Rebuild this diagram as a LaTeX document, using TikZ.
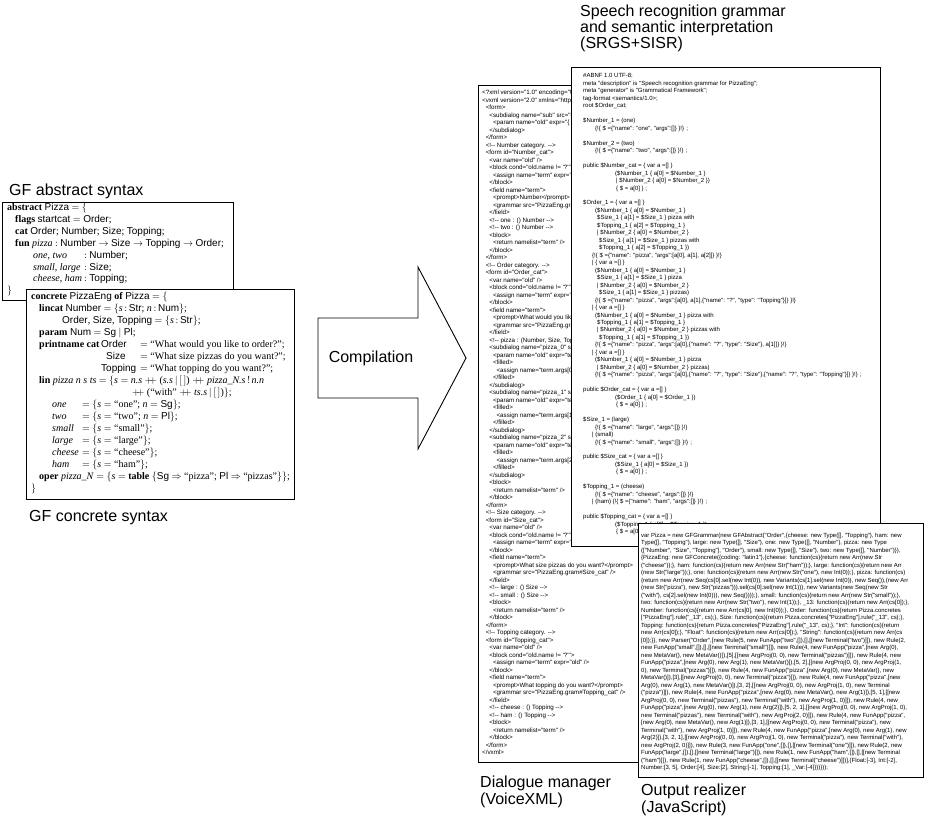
\documentclass[tikz,border=0pt]{standalone}
\usepackage{fontspec}
\setmainfont{Liberation Serif}
\setsansfont{Liberation Sans}
\newfontfamily\lsf{Liberation Sans}
\newcommand\kw[1]{\textbf{#1}}
\newcommand\sid[1]{{\sffamily #1}}
\newcommand\fn[1]{\textit{#1}}
\newcommand\pp{\ensuremath{+\!\!+}}
\newcommand\xl[2]{\hbox{\kern#1pt\relax #2}}
\newcommand\blk{\hbox{}}
\newcommand\q{\textquotesingle}
\newcommand\codebox[3]{\vtop{\lsf\fontsize{#1}{#2}\selectfont\baselineskip=#2pt\lineskiplimit=-20pt\lineskip=0pt\relax #3}}
\newcommand\vxcat[3]{%
 \xl{3.6}{<!-{}- #1 category. -{}->}
 \xl{3.6}{<form id="#1\_cat">}
 \xl{7.2}{<var name="old" />}
 \xl{7.2}{<block cond="old.name != \q?\q">}
 \xl{10.8}{<assign name="term" expr="old" />}
 \xl{7.2}{</block>}
 \xl{7.2}{<field name="term">}
 \xl{10.8}{<prompt>#2</prompt>}
 \xl{10.8}{<grammar src="PizzaEng.gram\##1\_cat" />}
 \xl{7.2}{</field>}
 #3
 \xl{7.2}{<block>}
 \xl{10.8}{<return namelist="term" />}
 \xl{7.2}{</block>}
 \xl{3.6}{</form>}}
\newcommand\vxsub[2]{%
 \xl{7.2}{<subdialog name="pizza\_#1" src="\##2\_cat">}
 \xl{10.8}{<param name="old" expr="term.args[#1]" />}
 \xl{10.8}{<filled>}
 \xl{14.4}{<assign name="term.args[#1]" expr="pizza\_#1" />}
 \xl{10.8}{</filled>}
 \xl{7.2}{</subdialog>}}
\begin{document}
\begin{tikzpicture}[x=1pt,y=-1pt,
  box/.style={draw=black,line width=0.9pt,fill=white},
  gf/.style={anchor=base west,inner sep=0pt,font=\fontsize{10}{12}\selectfont},
  lbl/.style={anchor=base west,inner sep=0pt,font=\lsf\fontsize{16}{16}\selectfont},
  code/.style={anchor=base west,inner sep=0pt}
]
\useasboundingbox (0,0) rectangle (926,821);

% ---------------- GF abstract syntax
\node[lbl] (abslbl) at (9,196) {GF abstract syntax};
\draw[box] (2,202) rectangle (233,300);
\node[gf] (a1) at (7,211) {\kw{abstract} \sid{Pizza} $=$ $\{$};
\node[gf] (a2) at (15,222.8) {\kw{flags} \sid{startcat} $=$ \sid{Order};};
\node[gf] (a3) at (15,234.6) {\kw{cat} \sid{Order}; \sid{Number}; \sid{Size}; \sid{Topping};};
\node[gf] (a4) at (15,246.4) {\kw{fun} \fn{pizza} $:$ \sid{Number} $\rightarrow$ \sid{Size} $\rightarrow$ \sid{Topping} $\rightarrow$ \sid{Order};};
\node[gf] (a5) at (33,258.2) {\fn{one}, \fn{two}};
\node[gf] (a5b) at (84,258.2) {$:$ \sid{Number};};
\node[gf] (a6) at (33,270) {\fn{small}, \fn{large}};
\node[gf] (a6b) at (84,270) {$:$ \sid{Size};};
\node[gf] (a7) at (33,281.8) {\fn{cheese}, \fn{ham}};
\node[gf] (a7b) at (84,281.8) {$:$ \sid{Topping};};
\node[gf] (a8) at (7,293.6) {$\}$};

% ---------------- GF concrete syntax
\draw[box] (26,289) rectangle (294,499);
\node[gf] (c1) at (31,299) {\kw{concrete} \sid{PizzaEng} \kw{of} \sid{Pizza} $=$ $\{$};
\node[gf] (c2) at (39,311) {\kw{lincat} \sid{Number} $=$ $\{$\fn{s}$\,:\,$\sid{Str}; \fn{n}$\,:\,$\sid{Num}$\}$;};
\node[gf] (c3) at (62,323) {\sid{Order}, \sid{Size}, \sid{Topping} $=$ $\{$\fn{s}$\,:\,$\sid{Str}$\}$;};
\node[gf] (c4) at (39,335) {\kw{param} \sid{Num} $=$ \sid{Sg} $|$ \sid{Pl};};
\node[gf] (c5) at (39,347) {\kw{printname cat}};
\node[gf] (c5n) at (101,347) {\sid{Order}};
\node[gf] (c5s) at (140,347) {$=$ ``What would you like to order?'';};
\node[gf] (c6n) at (106,359) {\sid{Size}};
\node[gf] (c6s) at (140,359) {$=$ ``What size pizzas do you want?'';};
\node[gf] (c7n) at (101,371) {\sid{Topping}};
\node[gf] (c7s) at (140,371) {$=$ ``What topping do you want?'';};
\node[gf] (c8) at (39,383) {\kw{lin} \fn{pizza n s ts} $=$ $\{$\fn{s} $=$ \fn{n.s} \pp{} (\fn{s.s}$\,|\,[\,]$) \pp{} \fn{pizza\_N.s}$\,!\,$\fn{n.n}};
\node[gf] (c9) at (132,395) {\pp{} (``with'' \pp{} \fn{ts.s}$\,|\,[\,]$)$\}$;};
\foreach \nm/\rhs/\yy [count=\i] in {one/{$\{$\fn{s} $=$ ``one''; \fn{n} $=$ \sid{Sg}$\}$;}/407,
  two/{$\{$\fn{s} $=$ ``two''; \fn{n} $=$ \sid{Pl}$\}$;}/419,
  small/{$\{$\fn{s} $=$ ``small''$\}$;}/431,
  large/{$\{$\fn{s} $=$ ``large''$\}$;}/443,
  cheese/{$\{$\fn{s} $=$ ``cheese''$\}$;}/455,
  ham/{$\{$\fn{s} $=$ ``ham''$\}$;}/467}{
  \node[gf] (ln\i) at (52,\yy) {\fn{\nm}};
  \node[gf] (lr\i) at (82,\yy) {$=$ \rhs};
}
\node[gf] (c16) at (39,479) {\kw{oper} \fn{pizza\_N} $=$ $\{$\fn{s} $=$ \kw{table} $\{$\sid{Sg} $\Rightarrow$ ``pizza''; \sid{Pl} $\Rightarrow$ ``pizzas''$\}\}$;};
\node[gf] (c17) at (31,491) {$\}$};
\node[lbl] (conclbl) at (29,521) {GF concrete syntax};

% ---------------- Compilation arrow
\draw[line width=0.9pt,fill=white] (318,318) -- (418,318) -- (418,267) -- (466,358) -- (418,449) -- (418,398) -- (318,398) -- cycle;
\node[font=\lsf\fontsize{16}{16}\selectfont,inner sep=0pt] (comp) at (371,358) {Compilation};

% ---------------- VoiceXML
\draw[box] (478,85) rectangle (660,762);
\begin{scope}
\clip (478,85) rectangle (660,762);
\node[code] (vxtext) at (482,95) {\codebox{6.2}{7.5}{%
 \xl{0}{<?xml version="1.0" encoding="UTF-8"?>}
 \xl{0}{<vxml version="2.0" xmlns="http://www.w3.org/2001/vxml">}
 \xl{3.6}{<form>}
 \xl{7.2}{<subdialog name="sub" src="\#Order\_cat">}
 \xl{10.8}{<param name="old" expr="\{ name : \q?\q\ \}" />}
 \xl{7.2}{</subdialog>}
 \xl{3.6}{</form>}
 \vxcat{Number}{Number}{\xl{7.2}{<!-{}- one : () Number -{}->}\xl{7.2}{<!-{}- two : () Number -{}->}}
 \vxcat{Order}{What would you like to order?}{\xl{7.2}{<!-{}- pizza : (Number, Size, Topping) Order -{}->}\vxsub{0}{Number}\vxsub{1}{Size}\vxsub{2}{Topping}}
 \vxcat{Size}{What size pizzas do you want?}{\xl{7.2}{<!-{}- large : () Size -{}->}\xl{7.2}{<!-{}- small : () Size -{}->}}
 \vxcat{Topping}{What topping do you want?}{\xl{7.2}{<!-{}- cheese : () Topping -{}->}\xl{7.2}{<!-{}- ham : () Topping -{}->}}
 \xl{0}{</vxml>}
}};
\end{scope}
\draw[line width=0.9pt] (478,85) rectangle (660,762);
\node[lbl] (vxl1) at (480,787) {Dialogue manager};
\node[lbl] (vxl2) at (480,804) {(VoiceXML)};

% ---------------- SRGS
\node[lbl] (srt1) at (580,17) {Speech recognition grammar};
\node[lbl] (srt2) at (580,33) {and semantic interpretation};
\node[lbl] (srt3) at (580,49) {(SRGS+SISR)};
\draw[box] (571,67) rectangle (880,546);
\begin{scope}
\clip (571,67) rectangle (880,546);
\node[code] (srtext) at (583,78) {\codebox{6}{7.47}{%
\xl{0}{\#ABNF 1.0 UTF-8;}
\xl{0}{meta "description" is "Speech recognition grammar for PizzaEng";}
\xl{0}{meta "generator" is "Grammatical Framework";}
\xl{0}{tag-format <semantics/1.0>;}
\xl{0}{root \$Order\_cat;}
\blk
\xl{0}{\$Number\_1 = (one)}
\xl{12}{\{!\{ \$ =\{"name": "one", "args":[]\} \}!\} ;}
\blk
\xl{0}{\$Number\_2 = (two)}
\xl{12}{\{!\{ \$ =\{"name": "two", "args":[]\} \}!\} ;}
\blk
\xl{0}{public \$Number\_cat = \{ var a =[] \}}
\xl{32}{(\$Number\_1 \{ a[0] = \$Number\_1 \}}
\xl{33}{| \$Number\_2 \{ a[0] = \$Number\_2 \})}
\xl{33}{\{ \$ = a[0] \} ;}
\blk
\xl{0}{\$Order\_1 = \{ var a =[] \}}
\xl{12}{(\$Number\_1 \{ a[0] = \$Number\_1 \}}
\xl{14}{\$Size\_1 \{ a[1] = \$Size\_1 \} pizza with}
\xl{14}{\$Topping\_1 \{ a[2] = \$Topping\_1 \}}
\xl{14}{| \$Number\_2 \{ a[0] = \$Number\_2 \}}
\xl{16}{\$Size\_1 \{ a[1] = \$Size\_1 \} pizzas with}
\xl{16}{\$Topping\_1 \{ a[2] = \$Topping\_1 \})}
\xl{9}{\{!\{ \$ =\{"name": "pizza", "args":[a[0], a[1], a[2]]\} \}!\}}
\xl{9}{| \{ var a =[] \}}
\xl{12}{(\$Number\_1 \{ a[0] = \$Number\_1 \}}
\xl{14}{\$Size\_1 \{ a[1] = \$Size\_1 \} pizza}
\xl{14}{| \$Number\_2 \{ a[0] = \$Number\_2 \}}
\xl{16}{\$Size\_1 \{ a[1] = \$Size\_1 \} pizzas)}
\xl{12}{\{!\{ \$ =\{"name": "pizza", "args":[a[0], a[1],\{"name": "?", "type": "Topping"\}]\} \}!\}}
\xl{9}{| \{ var a =[] \}}
\xl{12}{(\$Number\_1 \{ a[0] = \$Number\_1 \} pizza with}
\xl{14}{\$Topping\_1 \{ a[1] = \$Topping\_1 \}}
\xl{14}{| \$Number\_2 \{ a[0] = \$Number\_2 \} pizzas with}
\xl{16}{\$Topping\_1 \{ a[1] = \$Topping\_1 \})}
\xl{12}{\{!\{ \$ =\{"name": "pizza", "args":[a[0],\{"name": "?", "type": "Size"\}, a[1]]\} \}!\}}
\xl{9}{| \{ var a =[] \}}
\xl{12}{(\$Number\_1 \{ a[0] = \$Number\_1 \} pizza}
\xl{14}{| \$Number\_2 \{ a[0] = \$Number\_2 \} pizzas)}
\xl{12}{\{!\{ \$ =\{"name": "pizza", "args":[a[0],\{"name": "?", "type": "Size"\},\{"name": "?", "type": "Topping"\}]\} \}!\} ;}
\blk
\xl{0}{public \$Order\_cat = \{ var a =[] \}}
\xl{32}{(\$Order\_1 \{ a[0] = \$Order\_1 \})}
\xl{33}{\{ \$ = a[0] \} ;}
\blk
\xl{0}{\$Size\_1 = (large)}
\xl{12}{\{!\{ \$ =\{"name": "large", "args":[]\} \}!\}}
\xl{9}{| (small)}
\xl{12}{\{!\{ \$ =\{"name": "small", "args":[]\} \}!\} ;}
\blk
\xl{0}{public \$Size\_cat = \{ var a =[] \}}
\xl{32}{(\$Size\_1 \{ a[0] = \$Size\_1 \})}
\xl{33}{\{ \$ = a[0] \} ;}
\blk
\xl{0}{\$Topping\_1 = (cheese)}
\xl{12}{\{!\{ \$ =\{"name": "cheese", "args":[]\} \}!\}}
\xl{9}{| (ham) \{!\{ \$ =\{"name": "ham", "args":[]\} \}!\} ;}
\blk
\xl{0}{public \$Topping\_cat = \{ var a =[] \}}
\xl{32}{(\$Topping\_1 \{ a[0] = \$Topping\_1 \})}
\xl{33}{\{ \$ = a[0] \} ;}
}};
\end{scope}
\draw[line width=0.9pt] (571,67) rectangle (880,546);

% ---------------- JavaScript
\draw[box] (638,523) rectangle (923,777);
\begin{scope}
\clip (638,523) rectangle (923,777);
\node[code] (jstext) at (641,537) {\codebox{5.95}{7.5}{%
\xl{0}{var Pizza = new GFGrammar(new GFAbstract("Order",\{cheese: new Type([], "Topping"), ham: new}
\xl{0}{Type([], "Topping"), large: new Type([], "Size"), one: new Type([], "Number"), pizza: new Type}
\xl{0}{(["Number", "Size", "Topping"], "Order"), small: new Type([], "Size"), two: new Type([], "Number")\}),}
\xl{0}{\{PizzaEng: new GFConcrete(\{coding: "latin1"\},\{cheese: function(cs)\{return new Arr(new Str}
\xl{0}{("cheese"));\}, ham: function(cs)\{return new Arr(new Str("ham"));\}, large: function(cs)\{return new Arr}
\xl{0}{(new Str("large"));\}, one: function(cs)\{return new Arr(new Str("one"), new Int(0));\}, pizza: function(cs)}
\xl{0}{\{return new Arr(new Seq(cs[0].sel(new Int(0)), new Variants(cs[1].sel(new Int(0)), new Seq()),(new Arr}
\xl{0}{(new Str("pizza"), new Str("pizzas"))).sel(cs[0].sel(new Int(1))), new Variants(new Seq(new Str}
\xl{0}{("with"), cs[2].sel(new Int(0))), new Seq())));\}, small: function(cs)\{return new Arr(new Str("small"));\},}
\xl{0}{two: function(cs)\{return new Arr(new Str("two"), new Int(1));\}, \_13: function(cs)\{return new Arr(cs[0]);\},}
\xl{0}{Number: function(cs)\{return new Arr(cs[0], new Int(0));\}, Order: function(cs)\{return Pizza.concretes}
\xl{0}{["PizzaEng"].rule("\_13", cs);\}, Size: function(cs)\{return Pizza.concretes["PizzaEng"].rule("\_13", cs);\},}
\xl{0}{Topping: function(cs)\{return Pizza.concretes["PizzaEng"].rule("\_13", cs);\}, "Int": function(cs)\{return}
\xl{0}{new Arr(cs[0]);\}, "Float": function(cs)\{return new Arr(cs[0]);\}, "String": function(cs)\{return new Arr(cs}
\xl{0}{[0]);\}\}, new Parser("Order",[new Rule(5, new FunApp("two",[]),[],[[new Terminal("two")]]), new Rule(2,}
\xl{0}{new FunApp("small",[]),[],[[new Terminal("small")]]), new Rule(4, new FunApp("pizza",[new Arg(0),}
\xl{0}{new MetaVar(), new MetaVar()]),[5],[[new ArgProj(0, 0), new Terminal("pizzas")]]), new Rule(4, new}
\xl{0}{FunApp("pizza",[new Arg(0), new Arg(1), new MetaVar()]),[5, 2],[[new ArgProj(0, 0), new ArgProj(1,}
\xl{0}{0), new Terminal("pizzas")]]), new Rule(4, new FunApp("pizza",[new Arg(0), new MetaVar(), new}
\xl{0}{MetaVar()]),[3],[[new ArgProj(0, 0), new Terminal("pizza")]]), new Rule(4, new FunApp("pizza",[new}
\xl{0}{Arg(0), new Arg(1), new MetaVar()]),[3, 2],[[new ArgProj(0, 0), new ArgProj(1, 0), new Terminal}
\xl{0}{("pizza")]]), new Rule(4, new FunApp("pizza",[new Arg(0), new MetaVar(), new Arg(1)]),[5, 1],[[new}
\xl{0}{ArgProj(0, 0), new Terminal("pizzas"), new Terminal("with"), new ArgProj(1, 0)]]), new Rule(4, new}
\xl{0}{FunApp("pizza",[new Arg(0), new Arg(1), new Arg(2)]),[5, 2, 1],[[new ArgProj(0, 0), new ArgProj(1, 0),}
\xl{0}{new Terminal("pizzas"), new Terminal("with"), new ArgProj(2, 0)]]), new Rule(4, new FunApp("pizza",}
\xl{0}{[new Arg(0), new MetaVar(), new Arg(1)]),[3, 1],[[new ArgProj(0, 0), new Terminal("pizza"), new}
\xl{0}{Terminal("with"), new ArgProj(1, 0)]]), new Rule(4, new FunApp("pizza",[new Arg(0), new Arg(1), new}
\xl{0}{Arg(2)]),[3, 2, 1],[[new ArgProj(0, 0), new ArgProj(1, 0), new Terminal("pizza"), new Terminal("with"),}
\xl{0}{new ArgProj(2, 0)]]), new Rule(3, new FunApp("one",[]),[],[[new Terminal("one")]]), new Rule(2, new}
\xl{0}{FunApp("large",[]),[],[[new Terminal("large")]]), new Rule(1, new FunApp("ham",[]),[],[[new Terminal}
\xl{0}{("ham")]]), new Rule(1, new FunApp("cheese",[]),[],[[new Terminal("cheese")]])],\{Float:[-3], Int:[-2],}
\xl{0}{Number:[3, 5], Order:[4], Size:[2], String:[-1], Topping:[1], \_Var:[-4]\}))\}));}
}};
\end{scope}
\draw[line width=0.9pt] (638,523) rectangle (923,777);
\node[lbl] (jsl1) at (641,795) {Output realizer};
\node[lbl] (jsl2) at (641,812) {(JavaScript)};
\end{tikzpicture}
\end{document}
